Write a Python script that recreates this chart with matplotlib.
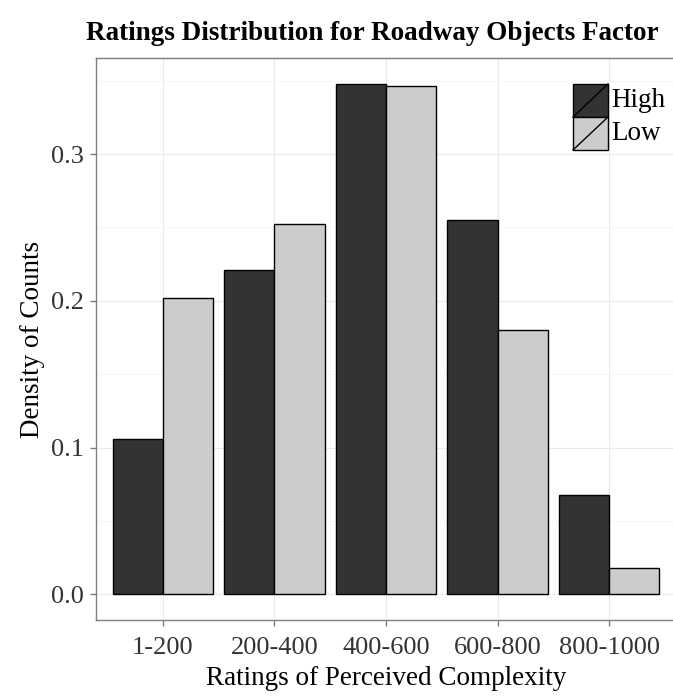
import matplotlib
matplotlib.use("Agg")
import matplotlib.pyplot as plt
import numpy as np
from matplotlib.patches import Rectangle
from matplotlib.lines import Line2D

categories = ["1-200", "200-400", "400-600", "600-800", "800-1000"]
series_names = ["High", "Low"]
high_vals = [0.106, 0.221, 0.348, 0.255, 0.068]
low_vals = [0.202, 0.252, 0.346, 0.180, 0.018]
yticks = [0.0, 0.1, 0.2, 0.3]
ytick_labels = ["0.0", "0.1", "0.2", "0.3"]
colors = ["#333333", "#CCCCCC"]

plt.rcParams['font.family'] = ['Liberation Serif', 'DejaVu Serif']

fig = plt.figure(figsize=(6.73, 6.98), dpi=100)
ax = fig.add_axes([96/673, 78/698, 580/673, 562/698])

x = np.arange(1, len(categories) + 1)
w = 0.45
ax.bar(x - w/2, high_vals, width=w, color=colors[0], edgecolor="black", linewidth=1.0, zorder=3)
ax.bar(x + w/2, low_vals, width=w, color=colors[1], edgecolor="black", linewidth=1.0, zorder=3)

ymax = max(max(high_vals), max(low_vals))
ax.set_xlim(0.4, 5.6)
ax.set_ylim(-0.05*ymax, 1.05*ymax)

ax.set_xticks(x)
ax.set_xticklabels(categories, fontsize=19, color="#333333")
ax.set_yticks(yticks)
ax.set_yticklabels(ytick_labels, fontsize=19, color="#333333")
ax.set_yticks([0.05, 0.15, 0.25, 0.35], minor=True)
ax.set_xticks([], minor=True)

ax.grid(True, which="major", color="#EBEBEB", linewidth=0.8, zorder=0)
ax.grid(True, which="minor", axis="y", color="#F5F5F5", linewidth=0.6, zorder=0)
ax.set_axisbelow(True)
ax.tick_params(which="major", length=4, width=1, color="#7F7F7F")
ax.tick_params(axis="x", which="major", pad=8)
ax.tick_params(axis="y", which="major", pad=5)
ax.tick_params(which="minor", length=0)
for sp in ax.spines.values():
    sp.set_color("#7F7F7F")
    sp.set_linewidth(1.0)

ax.set_xlabel("Ratings of Perceived Complexity", fontsize=19.5, labelpad=5)
ax.set_ylabel("Density of Counts", fontsize=19.5, labelpad=4)

fig.text(372/673, 1 - 33/698, "Ratings Distribution for Roadway Objects Factor",
         ha="center", va="center", fontsize=19.5, fontweight="bold")

# legend keys drawn in axes coordinates
key_x0, key_x1 = (573-96)/580, (608-96)/580
key_tops = [(620-84)/562, (620-117)/562]
key_h = 33/562
for i, name in enumerate(series_names):
    top = key_tops[i]
    bot = top - key_h
    ax.add_patch(Rectangle((key_x0, bot), key_x1 - key_x0, key_h, transform=ax.transAxes,
                           facecolor=colors[i], edgecolor="black", linewidth=1.0, zorder=5,
                           clip_on=False))
    ax.add_line(Line2D([key_x0, key_x1], [bot, top], transform=ax.transAxes,
                       color="black", linewidth=1.0, zorder=6, clip_on=False))
    ax.text((611-96)/580, (top + bot)/2, name, transform=ax.transAxes,
            ha="left", va="center", fontsize=19.5, zorder=6)

fig.savefig("out.png", dpi=100)
